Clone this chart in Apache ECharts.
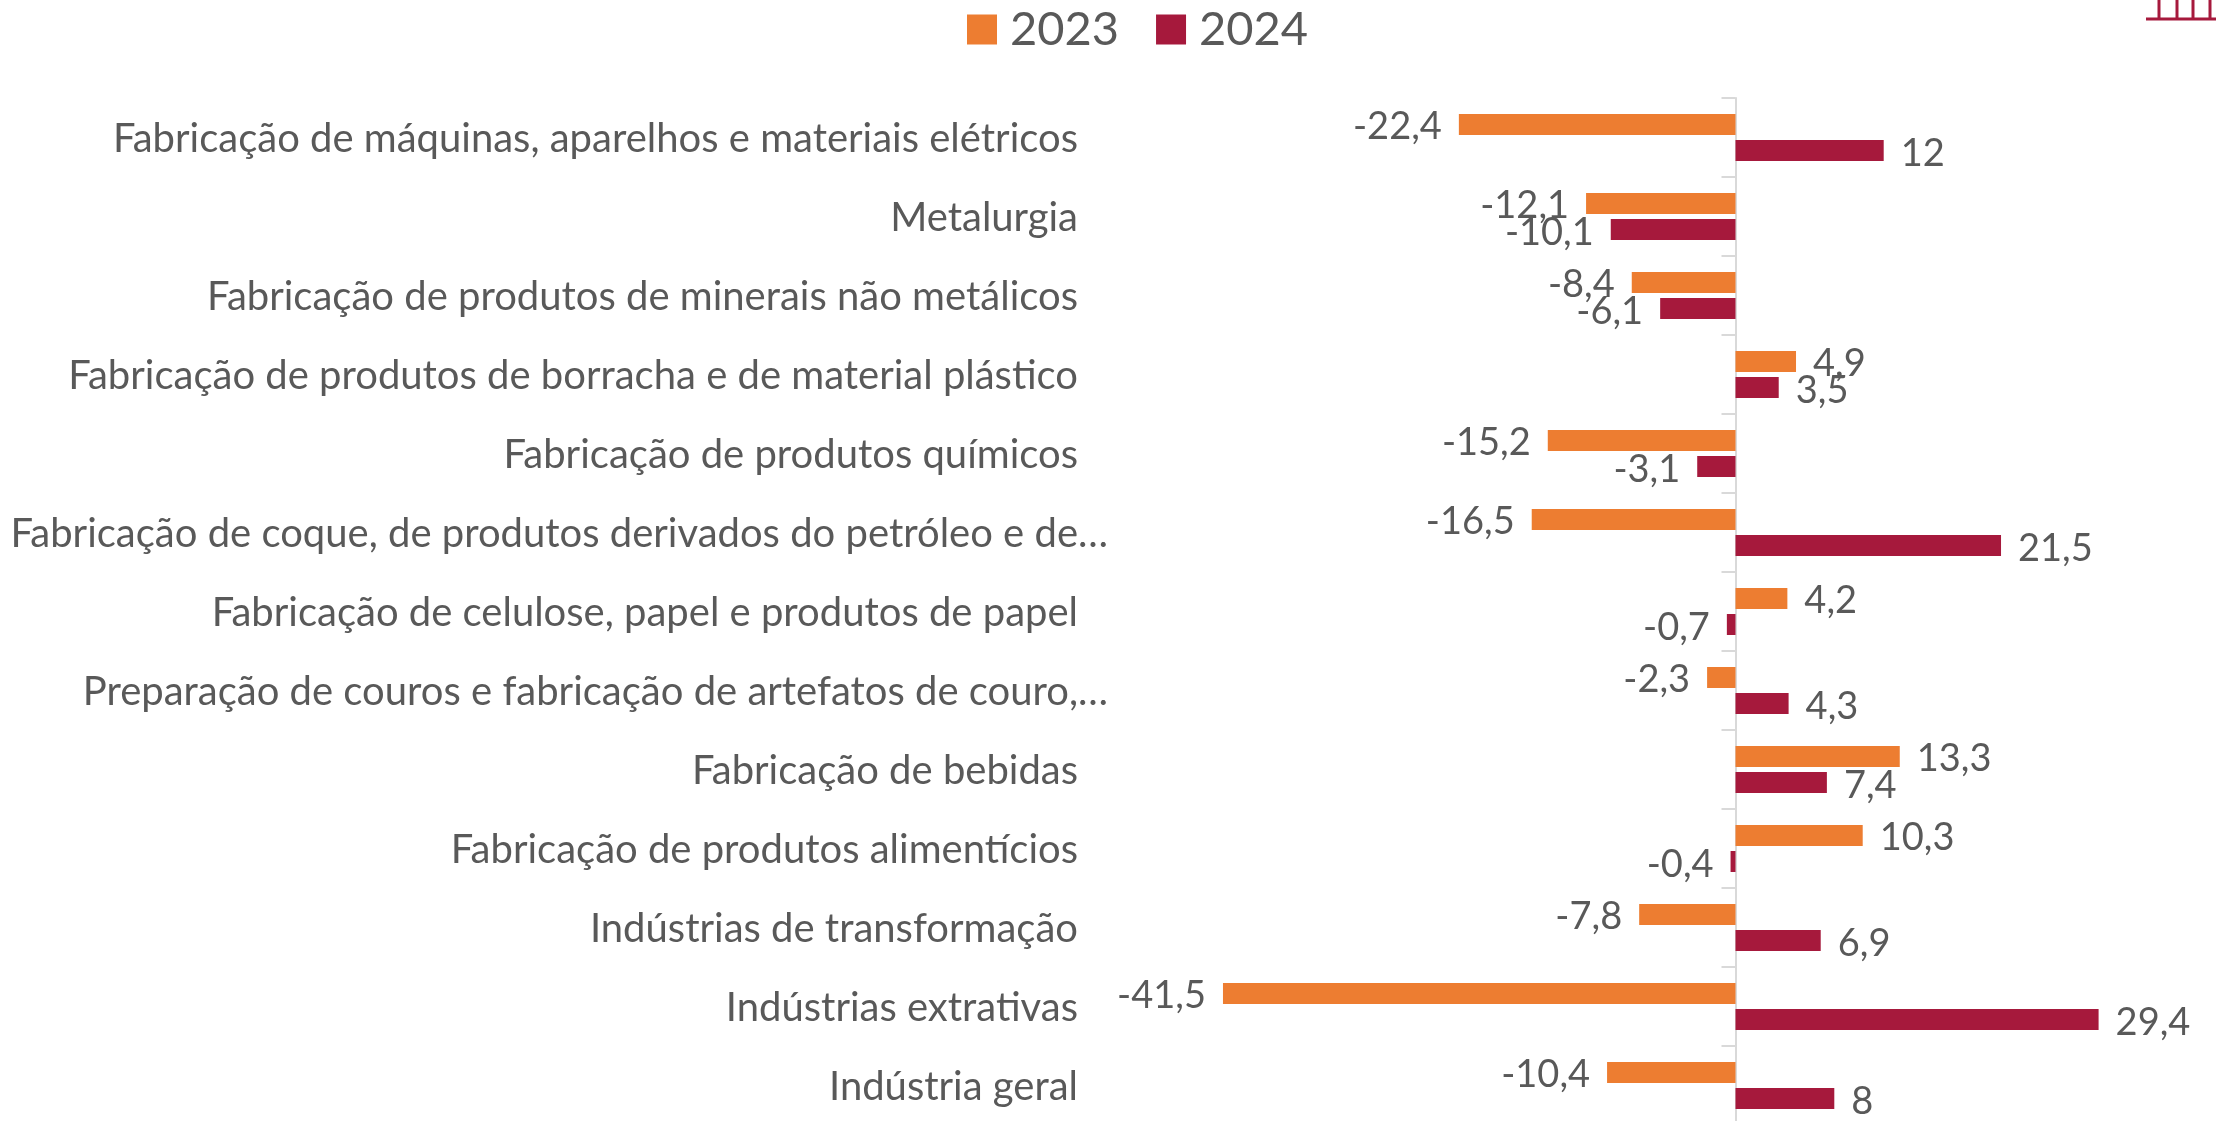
<!DOCTYPE html>
<html>
<head>
<meta charset="utf-8">
<style>
html, body { margin: 0; padding: 0; background: #fff; }
#chart { width: 2216px; height: 1121px; }
</style>
<script src="https://cdn.jsdelivr.net/npm/echarts@6/dist/echarts.min.js"></script>
</head>
<body>
<div id="chart"></div>
<script>
var categories = [
    'Fabricação de máquinas, aparelhos e materiais elétricos',
    'Metalurgia',
    'Fabricação de produtos de minerais não metálicos',
    'Fabricação de produtos de borracha e de material plástico',
    'Fabricação de produtos químicos',
    'Fabricação de coque, de produtos derivados do petróleo e de…',
    'Fabricação de celulose, papel e produtos de papel',
    'Preparação de couros e fabricação de artefatos de couro,…',
    'Fabricação de bebidas',
    'Fabricação de produtos alimentícios',
    'Indústrias de transformação',
    'Indústrias extrativas',
    'Indústria geral'
];
var values2023 = [-22.4, -12.1, -8.4, 4.9, -15.2, -16.5, 4.2, -2.3, 13.3, 10.3, -7.8, -41.5, -10.4];
var values2024 = [12, -10.1, -6.1, 3.5, -3.1, 21.5, -0.7, 4.3, 7.4, -0.4, 6.9, 29.4, 8];

var textColor = '#595959';
var fontName = 'Lato';

// rotulo fica do lado de fora da barra, negativo na esquerda
function barData(list) {
    return list.map(function(v) {
        return { value: v, label: { position: v < 0 ? 'left' : 'right' } };
    });
}

function makeSeries(name, list, color, labelDy) {
    return {
        name: name,
        type: 'bar',
        yAxisIndex: 0,
        barWidth: 21,
        barGap: '24%',
        itemStyle: { color: color },
        label: {
            show: true,
            distance: 17,
            offset: [0, labelDy],
            fontFamily: fontName,
            fontSize: 38,
            color: textColor,
            formatter: function(p) {
                return String(p.value).replace('.', ',');
            }
        },
        data: barData(list)
    };
}

// pedaco do logo cortado no canto
var logoParts = [
    { x1: 2146, y1: 19, x2: 2216, y2: 19 },
    { x1: 2159, y1: 0, x2: 2159, y2: 19 },
    { x1: 2177, y1: 0, x2: 2177, y2: 19 },
    { x1: 2193, y1: 0, x2: 2193, y2: 19 },
    { x1: 2210, y1: 0, x2: 2210, y2: 19 }
];

var chart = echarts.init(document.getElementById('chart'));
chart.setOption({
    animation: false,
    backgroundColor: '#fff',
    legend: {
        left: 962,
        top: 1,
        icon: 'rect',
        itemWidth: 30,
        itemHeight: 30,
        itemGap: 37,
        selectedMode: false,
        textStyle: { fontFamily: fontName, fontSize: 47, color: textColor, padding: [0, 0, 0, 8] },
        data: ['2023', '2024']
    },
    grid: {
        left: 1118,
        top: 98,
        width: 1049.75,
        height: 1027,
        containLabel: false,
        outerBoundsMode: 'none'
    },
    xAxis: {
        type: 'value',
        min: -50,
        max: 35,
        show: false
    },
    yAxis: [{
        // so os nomes, presos na esquerda do grid
        type: 'category',
        inverse: true,
        data: categories,
        position: 'left',
        axisLine: { show: false, onZero: false },
        axisTick: { show: false },
        splitLine: { show: false },
        axisLabel: {
            show: true,
            interval: 0,
            margin: 10,
            fontFamily: fontName,
            fontSize: 40,
            color: textColor,
            formatter: function(name) {
                return name.slice(-1) === '…' ? '{cut|' + name + '}' : '{full|' + name + '}';
            },
            rich: {
                full: {
                    fontFamily: fontName,
                    fontSize: 40,
                    color: textColor,
                    padding: [3, 30, 0, 0]
                },
                cut: {
                    fontFamily: fontName,
                    fontSize: 40,
                    color: textColor,
                    padding: [3, 0, 0, 0]
                }
            }
        }
    }, {
        // linha do zero com os tracinhos
        type: 'category',
        inverse: true,
        data: categories,
        position: 'left',
        axisLine: { show: true, onZero: true, lineStyle: { color: '#d9d9d9', width: 2 } },
        axisTick: { show: true, length: 14, lineStyle: { color: '#d9d9d9', width: 2 } },
        axisLabel: { show: false },
        splitLine: { show: false }
    }],
    series: [
        makeSeries('2023', values2023, '#ED7D31', 2),
        makeSeries('2024', values2024, '#A6193C', 3)
    ],
    graphic: logoParts.map(function(s) {
        return {
            type: 'line',
            shape: s,
            style: { stroke: '#A6193C', lineWidth: 3 }
        };
    })
});
</script>
</body>
</html>
